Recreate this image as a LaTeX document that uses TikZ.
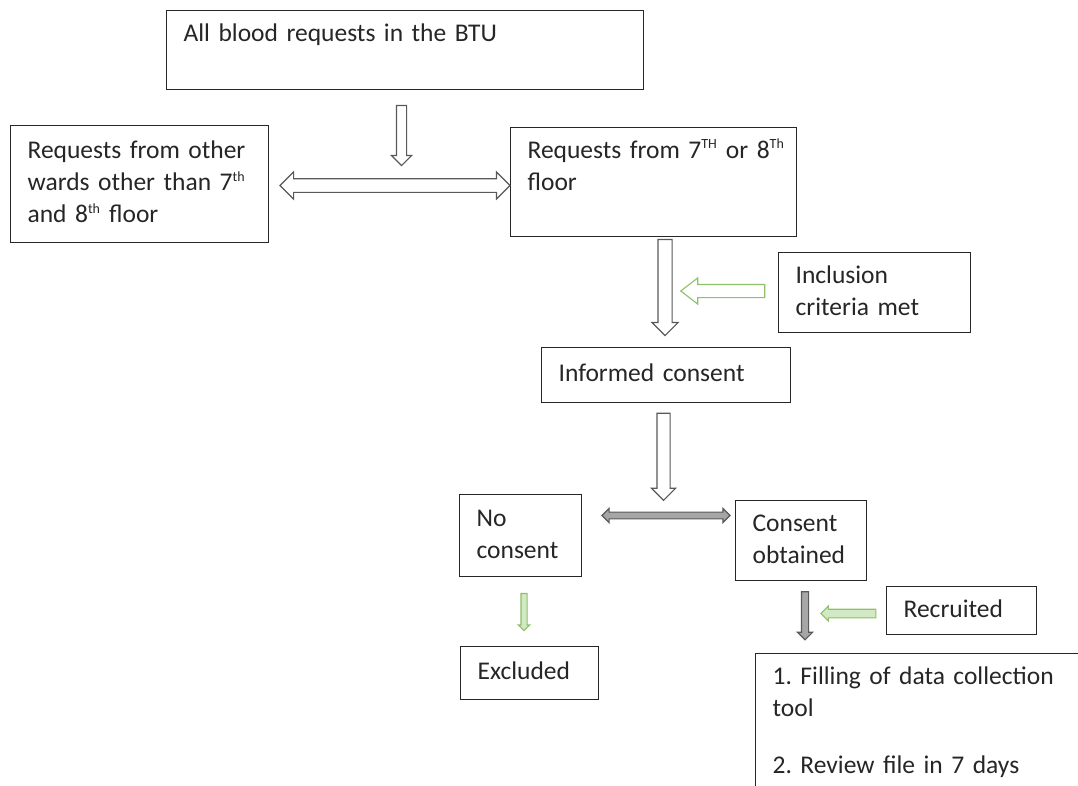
\documentclass[tikz,border=0pt]{standalone}
\usepackage{fontspec}
\setmainfont{Carlito}
\usepackage{xcolor}
\usetikzlibrary{shapes.arrows,positioning}
\definecolor{arrowgray}{HTML}{595959}
\definecolor{shaftgray}{HTML}{A6A6A6}
\definecolor{leafgreen}{HTML}{8CC168}
\definecolor{palegreen}{HTML}{D3E8C4}
\newcommand{\ordsup}[1]{\textsuperscript{\fontsize{14}{14}\selectfont #1}}
\frenchspacing

\begin{document}
\begin{tikzpicture}[x=1pt,y=-1pt,
  box/.style={draw=black!85,line width=1.2pt,anchor=north west,align=left,inner xsep=17pt,inner ysep=8pt,
    font=\fontsize{25.5}{32}\selectfont,text=black!85,execute at begin node=\strut,execute at end node=\strut},
  blk/.style={single arrow,draw=arrowgray,fill=white,line width=1.1pt,single arrow head indent=0pt},
  dblk/.style={double arrow,draw=arrowgray,fill=white,line width=1.1pt,double arrow head indent=0pt},
  grn/.style={draw=leafgreen}]
\clip (0,0) rectangle (1078,785);
\fill[white] (0,0) rectangle (1078,785);
% boxes
\node[box,text width=443pt,text depth=40.6pt] (allreq) at (166,10) {All blood requests in the BTU};
\node[box,text width=224pt,minimum height=117pt] (otherwards) at (10,125) {Requests from other\\wards other than 7\ordsup{th}\\and 8\ordsup{th} floor};
\node[box,text width=252pt,text depth=70.6pt] (floor78) at (510,127) {\mbox{Requests from 7\ordsup{TH} or 8\ordsup{Th}}\\floor};
\node[box,text width=158pt,minimum height=80pt] (inclusion) at (778,252) {Inclusion\\criteria met};
\node[box,text width=215pt,minimum height=55pt] (informed) at (541,347) {Informed consent};
\node[box,text width=88pt,minimum height=82pt] (nocons) at (459,494) {No\\consent};
\node[box,text width=97pt,minimum height=69pt] (obtained) at (735,500) {Consent\\obtained};
\node[box,text width=104pt,minimum height=53pt] (excluded) at (460,646) {Excluded};
\node[box,text width=116pt,minimum height=45pt] (recruited) at (886,586) {Recruited};
\node[box,text width=366pt,text depth=200pt] (datatool) at (755,653) {1. Filling of data collection\\tool\\[25pt]2. Review file in 7 days};
% block arrows (inner sep = half shaft)
\node[blk,inner sep=4.5pt,minimum height=60pt,single arrow head extend=5pt,shape border rotate=270] (allarrow) at (401.5,133) {};
\node[dblk,inner sep=6.25pt,minimum height=230pt,double arrow head extend=6.75pt] (splitarrow) at (395,185.5) {};
\node[blk,inner sep=6.5pt,minimum height=96pt,single arrow head extend=6pt,shape border rotate=270] (floorarrow) at (665,284) {};
\node[blk,grn,inner sep=6pt,minimum height=84pt,single arrow head extend=6.5pt,single arrow tip angle=75,shape border rotate=180] (inclarrow) at (727,291) {};
\node[blk,inner sep=6pt,minimum height=87pt,single arrow head extend=5.5pt,shape border rotate=270] (informedarrow) at (663.5,453.5) {};
\node[dblk,fill=shaftgray,inner sep=2.8pt,minimum height=128pt,double arrow head extend=3.7pt] (choicearrow) at (666,515.5) {};
\node[blk,grn,fill=palegreen,inner sep=2.5pt,minimum height=37pt,single arrow head extend=2.5pt,shape border rotate=270] (exclarrow) at (524,610.5) {};
\node[blk,fill=shaftgray,inner sep=3pt,minimum height=48pt,single arrow head extend=4pt,shape border rotate=270] (toolarrow) at (805,614) {};
\node[blk,grn,fill=palegreen,inner sep=3.75pt,minimum height=55pt,single arrow head extend=3.25pt,shape border rotate=180] (recruitarrow) at (850.5,613.5) {};
\end{tikzpicture}
\end{document}
